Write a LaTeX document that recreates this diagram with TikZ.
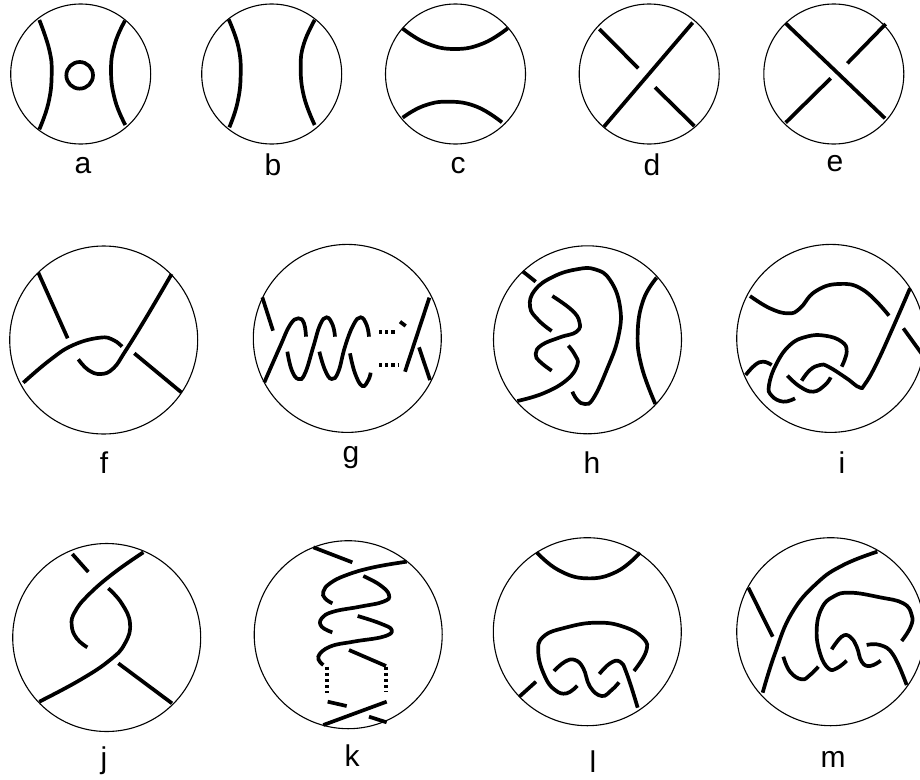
\documentclass[tikz,border=0pt]{standalone}
\usepackage{fontspec}
\setmainfont{Liberation Sans}
\usepackage{tikz}

\begin{document}
\begin{tikzpicture}[x=1pt, y=-1pt,
  ballS/.style={draw, circle, line width=1.1pt, inner sep=0pt, minimum size=140pt},
  ballL/.style={draw, circle, line width=1.1pt, inner sep=0pt, minimum size=188pt},
  lab/.style={anchor=base, inner sep=0pt, font=\fontsize{30}{30}\selectfont},
  strand/.style={line width=3.7pt, tension=0.75},
  dots/.style={line width=3.7pt, dash pattern=on 3.2pt off 3pt},
  zm/.style={shift={#1}, scale=0.33333}]
\useasboundingbox (0,0) rectangle (920,779);
\clip (0,0) rectangle (920,779);

% top row
\node[ballS] (ca) at (80.7,74) {};
\node[ballS] (cb) at (271.7,74) {};
\node[ballS] (cc) at (455.5,74) {};
\node[ballS] (cd) at (649.2,74) {};
\node[ballS] (ce) at (833.8,74) {};
\node[lab] (la) at (83,173) {a};
\node[lab] (lb) at (273,175.5) {b};
\node[lab] (lc) at (458,173) {c};
\node[lab] (ld) at (652,175.7) {d};
\node[lab] (le) at (835,171) {e};

\begin{scope}[zm={(0,0)}]
\draw[strand] plot[smooth] coordinates {(118,60) (148,150) (155,225) (145,310) (118,388)};
\draw[strand] plot[smooth] coordinates {(375,62) (345,130) (333,210) (345,300) (376,375)};
\draw[strand] (239,226) circle[radius=40];
\draw[strand] plot[smooth] coordinates {(686,58) (715,140) (722,225) (712,310) (688,382)};
\draw[strand] plot[smooth] coordinates {(944,60) (912,130) (902,200) (912,290) (944,375)};
\end{scope}
\begin{scope}[zm={(370,0)}]
\draw[strand] plot[smooth] coordinates {(97,85) (170,130) (255,147) (340,130) (413,85)};
\draw[strand] plot[smooth] coordinates {(98,353) (160,318) (235,305) (320,320) (396,367)};
\draw[strand] (688,87) -- (805,205);
\draw[strand] (702,380) -- (968,68);
\draw[strand] (855,262) -- (973,378);
\end{scope}
\begin{scope}[zm={(720,0)}]
\draw[strand] (197,70) -- (495,355);
\draw[strand] (382,190) -- (497,72);
\draw[strand] (197,368) -- (332,235);
\end{scope}

% middle row
\node[ballL] (cf) at (103.7,340) {};
\node[ballL] (cg) at (347.3,338.4) {};
\node[ballL] (ch) at (587.5,339.8) {};
\node[ballL] (ci) at (830.7,338.4) {};
\node[lab] (lf) at (104,473) {f};
\node[lab] (lg) at (351,462) {g};
\node[lab] (lh) at (592,473) {h};
\node[lab] (li) at (842,473) {i};

\begin{scope}[zm={(0,230)}]
\draw[strand] (115,128) -- (203,325);
\draw[strand] plot[smooth] coordinates {(70,458) (150,390) (220,345) (300,323) (340,330) (366,350)};
\draw[strand] plot[smooth] coordinates {(235,388) (265,420) (303,432) (340,415) (375,365) (440,260) (515,132)};
\draw[strand] (403,370) -- (544,487);
\end{scope}
\begin{scope}[zm={(230,230)}]
\draw[strand] (97,202) -- (129,302);
\draw[strand] plot[smooth] coordinates {(103,457) (150,350) (180,285) (205,265) (222,280) (228,320)};
\draw[strand] plot[smooth] coordinates {(172,365) (185,420) (205,447) (225,430) (250,350) (270,285) (290,262) (308,285) (315,320)};
\draw[strand] plot[smooth] coordinates {(268,365) (285,420) (305,447) (325,425) (345,350) (370,285) (392,262) (410,285) (417,320)};
\draw[strand] plot[smooth] coordinates {(360,370) (375,430) (397,468) (415,450) (422,428)};
\draw[dots] (447,305) -- (500,305);
\draw[dots] (447,405) -- (505,405);
\draw[strand] (510,275) -- (527,288);
\draw[strand] (598,203) -- (525,425);
\draw[strand] (567,352) -- (600,450);
\end{scope}
\begin{scope}[zm={(470,230)}]
\draw[strand] (158,124) -- (197,155);
\draw[strand] plot[smooth] coordinates {(142,513) (220,490) (290,450) (322,405) (315,375) (295,347)};
\draw[strand] plot[smooth] coordinates {(245,303) (205,270) (180,230) (195,180) (250,140) (320,118) (375,118) (420,150) (450,230) (445,320) (410,420) (370,505) (345,522) (322,510) (307,485)};
\draw[strand] plot[smooth] coordinates {(245,422) (210,395) (197,372) (215,345) (270,322) (320,305) (328,275) (305,240) (247,198)};
\draw[strand] plot[smooth] coordinates {(560,143) (520,210) (503,310) (515,410) (556,522)};
\end{scope}
\begin{scope}[zm={(700,230)}]
\draw[strand] plot[smooth] coordinates {(150,198) (210,235) (265,250) (300,235) (345,185) (415,162) (490,180) (567,257)};
\draw[strand] plot[smooth] coordinates {(630,175) (580,290) (530,400) (495,462) (478,472) (440,445) (385,410) (360,405) (330,420) (305,452)};
\draw[strand] (610,295) -- (670,378);
\draw[strand] plot[smooth] coordinates {(137,435) (165,405) (190,395) (215,405)};
\draw[strand] plot[smooth] coordinates {(285,505) (250,515) (215,497) (207,465) (230,400) (270,345) (320,320) (375,317) (425,335) (440,365) (425,410)};
\draw[strand] plot[smooth] coordinates {(262,437) (300,470) (340,485) (375,465) (392,442)};
\end{scope}

% bottom row
\node[ballL] (cj) at (106.7,637.5) {};
\node[ballL] (ck) at (348.2,634.7) {};
\node[ballL] (cl) at (587.3,631.7) {};
\node[ballL] (cm) at (830.7,631.7) {};
\node[lab] (lj) at (104,768) {j};
\node[lab] (lk) at (352,766) {k};
\node[lab] (ll) at (593,772) {l};
\node[lab] (lm) at (833,767) {m};

\begin{scope}[zm={(0,540)}]
\draw[strand] (217,42) -- (265,96);
\draw[strand] plot[smooth] coordinates {(430,37) (340,100) (265,165) (225,215) (215,255) (230,295) (262,322)};
\draw[strand] plot[smooth] coordinates {(325,145) (365,190) (390,250) (375,310) (330,360) (240,420) (118,485)};
\draw[strand] (355,370) -- (516,490);
\end{scope}
\begin{scope}[zm={(240,540)}]
\draw[strand] (220,22) -- (337,67);
\draw[strand] plot[smooth] coordinates {(500,65) (400,82) (320,105) (270,130) (250,155) (255,175) (277,190)};
\draw[strand] plot[smooth] coordinates {(370,108) (420,135) (447,165) (430,185) (360,200) (280,215) (245,235) (245,260) (277,277)};
\draw[strand] plot[smooth] coordinates {(353,228) (420,250) (455,270) (430,290) (340,305) (270,320) (235,350) (250,375)};
\draw[strand] (327,330) -- (438,378);
\draw[dots] (260,380) -- (260,460);
\draw[dots] (437,380) -- (437,455);
\draw[strand] (263,485) -- (320,498);
\draw[strand] (250,555) -- (440,485);
\draw[strand] (387,530) -- (440,547);
\end{scope}
\begin{scope}[zm={(480,540)}]
\draw[strand] plot[smooth] coordinates {(170,37) (235,90) (320,115) (410,95) (480,38)};
\draw[strand] (118,470) -- (168,425);
\draw[strand] plot[smooth] coordinates {(292,437) (260,460) (225,450) (195,410) (175,340) (190,290) (260,262) (350,248) (430,260) (490,295) (498,335) (462,393)};
\draw[strand] plot[smooth] coordinates {(222,393) (255,365) (285,360) (310,385) (330,440) (365,468) (395,450) (417,427)};
\draw[strand] plot[smooth] coordinates {(358,402) (390,370) (420,365) (440,400) (473,503)};
\end{scope}
\begin{scope}[zm={(720,540)}]
\draw[strand] (85,143) -- (158,290);
\draw[strand] plot[smooth] coordinates {(128,458) (165,340) (215,220) (290,130) (370,75) (472,35)};
\draw[strand] plot[smooth] coordinates {(190,350) (210,395) (245,418) (270,405) (295,380)};
\draw[strand] plot[smooth] coordinates {(545,303) (572,260) (575,225) (550,190) (480,172) (390,158) (340,170) (305,205) (290,270) (300,340) (325,385) (350,385) (380,362)};
\draw[strand] plot[smooth] coordinates {(335,328) (365,290) (390,290) (410,320) (425,365) (450,378) (482,362)};
\draw[strand] plot[smooth] coordinates {(440,315) (480,315) (520,345) (560,435)};
\end{scope}
\end{tikzpicture}
\end{document}
